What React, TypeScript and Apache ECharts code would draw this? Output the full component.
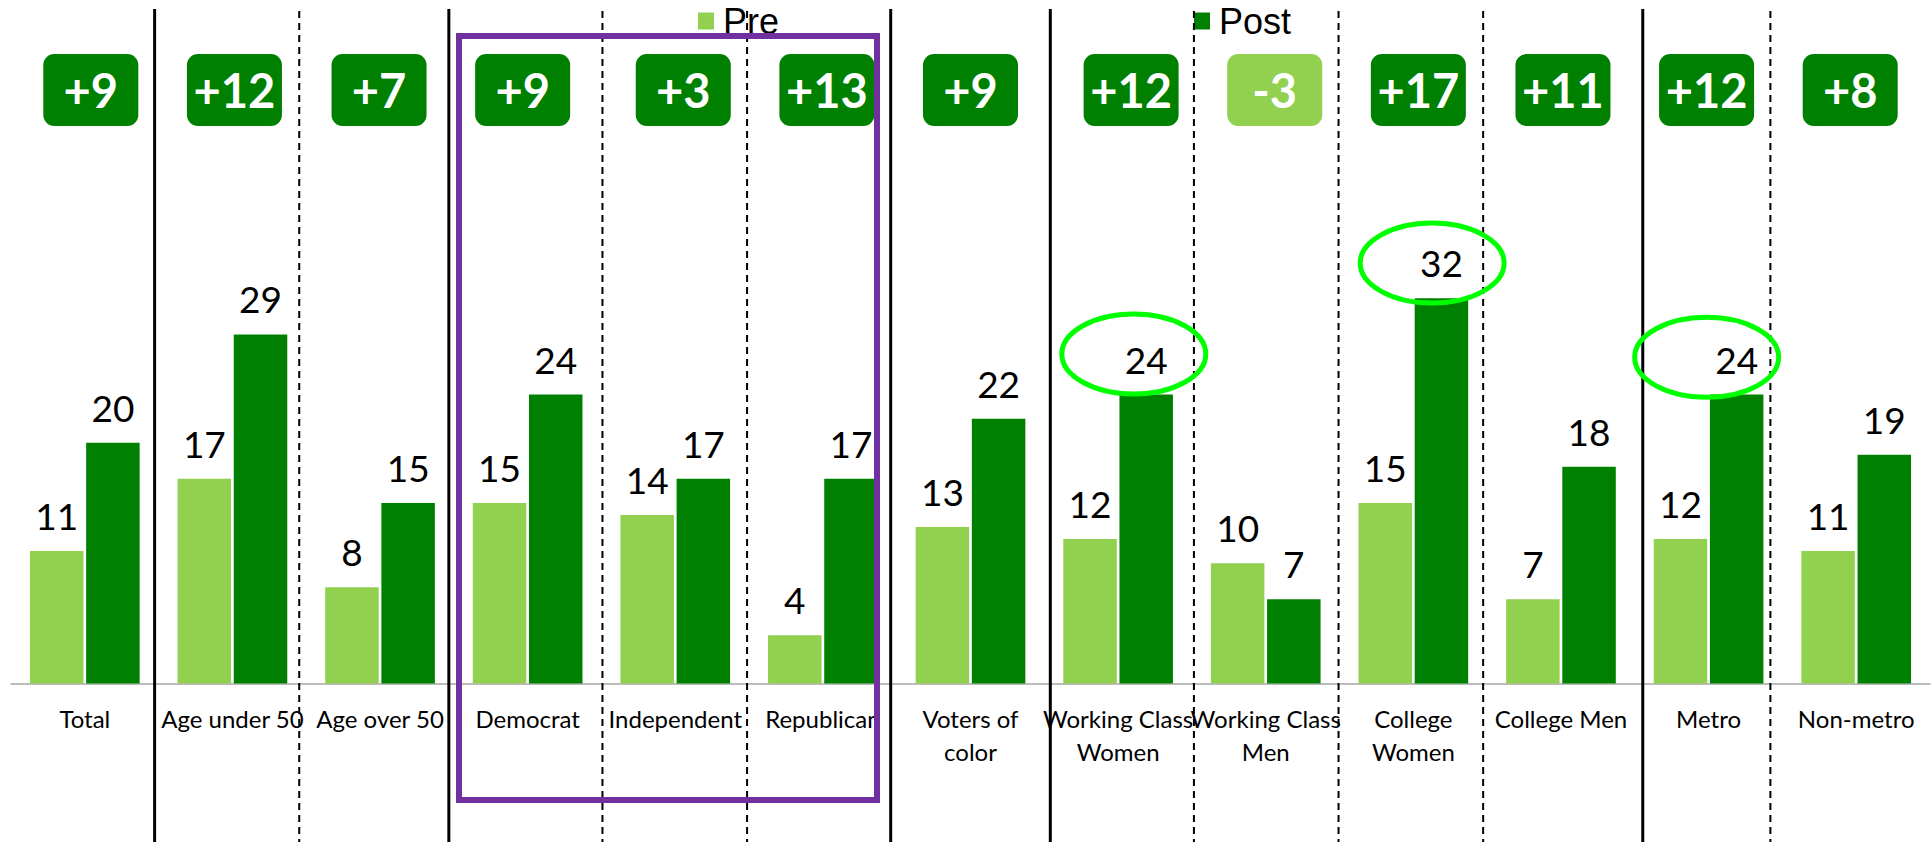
import React, { useEffect, useRef } from "react";
import * as echarts from "echarts";

const CATEGORIES = [
  "Total",
  "Age under 50",
  "Age over 50",
  "Democrat",
  "Independent",
  "Republican",
  "Voters of\ncolor",
  "Working Class\nWomen",
  "Working Class\nMen",
  "College\nWomen",
  "College Men",
  "Metro",
  "Non-metro",
];
const PRE = [11, 17, 8, 15, 14, 4, 13, 12, 10, 15, 7, 12, 11];
const POST = [20, 29, 15, 24, 17, 17, 22, 24, 7, 32, 18, 24, 19];
const SERIES_NAMES = ["Pre", "Post"];
const DELTAS = POST.map((v, i) => v - PRE[i]);
const HIGHLIGHTED = [7, 9, 11];

// layout / style tweaks (pixels)
const BOX_NUDGE = [6, 2, -1, -5, 8, 4, 0, 13, 9, 5, 2, -2, -6];
const DIVIDERS = [
  { after: 0, solid: true, nudge: -4 },
  { after: 1, solid: false, nudge: -7 },
  { after: 2, solid: true, nudge: -5 },
  { after: 3, solid: false, nudge: 1 },
  { after: 4, solid: false, nudge: -2 },
  { after: 5, solid: true, nudge: -6 },
  { after: 6, solid: true, nudge: 6 },
  { after: 7, solid: false, nudge: 2 },
  { after: 8, solid: false, nudge: -1 },
  { after: 9, solid: false, nudge: -4 },
  { after: 10, solid: true, nudge: 8 },
  { after: 11, solid: false, nudge: -12 },
];
const ELLIPSE_NUDGE: Record<number, [number, number]> = {
  7: [15.7, -40.6],
  9: [18.8, -35.2],
  11: [-1.9, -37.3],
};

const LIGHT = "#92D050";
const DARK = "#008000";
const FONT = "Lato";

export default function App() {
  const ref = useRef<HTMLDivElement>(null);
  useEffect(() => {
    if (!ref.current) return;
    const chart = echarts.init(ref.current, undefined, { renderer: "svg" });
    const legendBase = {
      padding: 0,
      itemWidth: 16,
      itemHeight: 17,
      icon: "rect",
      top: 3,
      selectedMode: false,
      textStyle: {
        fontFamily: "Liberation Sans",
        fontSize: 36,
        color: "#000",
        padding: [0, 0, 0, 4],
      },
    };
    chart.setOption({
      animation: false,
      backgroundColor: "#fff",
      legend: [
        { ...legendBase, data: [SERIES_NAMES[0]], left: 698 },
        { ...legendBase, data: [SERIES_NAMES[1]], left: 1194 },
      ],
      grid: { left: 11, right: 1, top: 202, bottom: 158.5, containLabel: false },
      xAxis: {
        type: "category",
        data: CATEGORIES,
        axisLine: { lineStyle: { color: "#a6a6a6", width: 1.5 } },
        axisTick: { length: 9, lineStyle: { color: "#a6a6a6", width: 1.5 } },
        axisLabel: {
          interval: 0,
          margin: 18,
          fontFamily: FONT,
          fontSize: 24,
          lineHeight: 33,
          color: "#000",
        },
      },
      yAxis: {
        type: "value",
        min: 0,
        max: 40,
        show: false,
        splitLine: { show: false },
      },
      series: [
        {
          name: SERIES_NAMES[0],
          type: "bar",
          data: PRE,
          barWidth: 53.5,
          barGap: "5%",
          itemStyle: { color: LIGHT },
          label: {
            show: true,
            position: "top",
            distance: 17,
            fontFamily: FONT,
            fontSize: 37,
            color: "#000",
          },
        },
        {
          name: SERIES_NAMES[1],
          type: "bar",
          data: POST,
          barWidth: 53.5,
          barGap: "5%",
          itemStyle: { color: DARK },
          label: {
            show: true,
            position: "top",
            distance: 17,
            fontFamily: FONT,
            fontSize: 37,
            color: "#000",
          },
        },
        {
          name: "Change",
          type: "custom",
          data: DELTAS.map((d, i) => [i, d]),
          z: 5,
          renderItem: (params: any, api: any) => {
            const i = api.value(0);
            const d = api.value(1);
            const cx = api.coord([i, 0])[0] + BOX_NUDGE[i];
            return {
              type: "group",
              children: [
                {
                  type: "rect",
                  shape: { x: cx - 47.5, y: 54, width: 95, height: 72, r: 11 },
                  style: { fill: d < 0 ? LIGHT : DARK },
                },
                {
                  type: "text",
                  style: {
                    text: (d > 0 ? "+" : "") + d,
                    x: cx,
                    y: 90,
                    align: "center",
                    verticalAlign: "middle",
                    fill: "#fff",
                    fontSize: 47,
                    fontWeight: "bold",
                    fontFamily: FONT,
                  },
                },
              ],
            };
          },
        },
      ],
    });

    const catX = (i: number) => chart.convertToPixel({ xAxisIndex: 0 }, i) as number;
    const valY = (v: number) => chart.convertToPixel({ yAxisIndex: 0 }, v) as number;
    const band = catX(1) - catX(0);
    const graphics: any[] = [];
    DIVIDERS.forEach((d) => {
      const x = catX(d.after) + band / 2 + d.nudge;
      graphics.push({
        type: "line",
        z: 50,
        shape: { x1: x, y1: d.solid ? 9 : 11, x2: x, y2: 842 },
        style: {
          stroke: "#000",
          lineWidth: d.solid ? 3 : 2,
          lineDash: d.solid ? null : [7, 5],
        },
      });
    });
    graphics.push({
      type: "rect",
      z: 60,
      shape: { x: 459, y: 36, width: 418, height: 764 },
      style: { fill: "none", stroke: "#7030A0", lineWidth: 6 },
    });
    HIGHLIGHTED.forEach((i) => {
      const [dx, dy] = ELLIPSE_NUDGE[i];
      graphics.push({
        type: "ellipse",
        z: 60,
        shape: { cx: catX(i) + dx, cy: valY(POST[i]) + dy, rx: 72, ry: 40 },
        style: { fill: "none", stroke: "#00ff00", lineWidth: 5 },
      });
    });
    chart.setOption({ graphic: graphics });

    return () => chart.dispose();
  }, []);
  return (
    <div
      ref={ref}
      style={{ position: "fixed", left: 0, top: 0, width: 1931, height: 842, background: "#fff" }}
    />
  );
}
